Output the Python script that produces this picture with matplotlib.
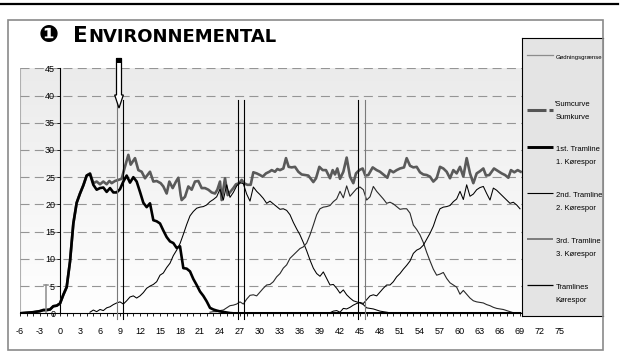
import numpy as np
import matplotlib
matplotlib.use('Agg')
import matplotlib.pyplot as plt
from matplotlib.patches import FancyArrow, Rectangle
from matplotlib.lines import Line2D
from matplotlib.colors import LinearSegmentedColormap

plt.rcParams['font.family'] = ['Liberation Sans', 'DejaVu Sans']
plt.rcParams['axes.unicode_minus'] = False
plt.rcParams['lines.scale_dashes'] = False

# ---- data (days on x, kg on y) ----
step = 0.5

# 1st tramline, -6 .. 27 every half day, then flat to day 69
tram1_start = -6.0
tram1 = [0.0, 0.05, 0.1, 0.15, 0.2, 0.3, 0.4, 0.6, 0.6, 0.7,
         1.3, 1.4, 1.8, 3.4, 4.8, 9.5, 16.5, 20.3, 22.0, 23.5,
         25.3, 25.6, 23.6, 22.7, 23.0, 23.1, 22.3, 23.0, 22.2, 22.2,
         22.8, 24.2, 25.3, 24.0, 25.0, 24.2, 22.3, 20.3, 19.5, 20.2,
         17.1, 16.9, 16.5, 15.2, 14.0, 13.2, 12.9, 12.0, 12.3, 8.3,
         8.2, 7.7, 6.3, 5.2, 4.0, 3.2, 2.2, 1.0, 0.7, 0.5,
         0.35, 0.25, 0.15, 0.05, 0.0, 0.0, 0.0]
tram1_end_day = 69
tram1_end_value = 0.0

tram2_start = 4.5
tram2 = [0.2, 0.6, 0.3, 0.7, 0.5, 1.0, 1.2, 1.6, 1.9, 2.1,
         1.7, 2.3, 3.0, 3.2, 2.8, 3.2, 3.8, 4.6, 5.0, 5.3,
         5.8, 7.0, 7.4, 8.4, 9.2, 10.6, 11.6, 12.8, 14.5, 16.3,
         17.9, 18.7, 19.3, 19.5, 19.6, 19.9, 20.5, 20.9, 21.4, 22.8,
         20.8, 23.6, 21.3, 22.2, 23.4, 24.0, 23.8, 21.9, 20.6, 23.2,
         22.4, 21.8, 21.1, 20.2, 20.6, 20.1, 19.6, 19.1, 19.2, 18.9,
         18.1, 16.7, 15.5, 14.4, 13.0, 11.5, 9.8, 8.3, 7.3, 6.8,
         7.6, 6.4, 5.2, 5.3, 4.6, 3.7, 4.3, 3.4, 2.8, 2.3,
         2.1, 1.9, 1.6, 1.0, 0.9, 0.8, 0.6, 0.4, 0.3, 0.2,
         0.1, 0.0]

tram3_start = 22.5
tram3 = [0.2, 0.3, 0.3, 0.5, 0.6, 1.0, 1.4, 1.5, 1.7, 2.1,
         1.7, 2.6, 3.3, 3.4, 3.2, 3.9, 4.6, 5.2, 5.3, 5.8,
         6.7, 7.3, 8.3, 8.9, 10.1, 10.7, 11.3, 11.9, 12.2, 12.9,
         14.4, 16.2, 18.1, 19.2, 19.5, 19.6, 19.8, 20.5, 21.0, 22.4,
         21.2, 23.4, 21.5, 22.2, 22.9, 23.2, 22.7, 20.8, 21.4, 23.3,
         22.4, 21.7, 21.0, 20.2, 20.4, 20.1, 19.6, 19.1, 19.2, 19.2,
         18.4, 16.2, 15.4, 14.4, 13.0, 11.2, 9.6, 8.1, 7.0, 7.2,
         7.5, 6.4, 5.6, 5.2, 4.8, 3.5, 4.2, 3.5, 2.8, 2.3,
         2.1, 2.0, 1.9, 1.6, 1.4, 1.1, 0.9, 0.8, 0.7, 0.5,
         0.3, 0.1]

tram4_start = 40.5
tram4 = [0.1, 0.4, 0.5, 0.2, 0.9, 0.8, 1.1, 1.5, 1.8, 2.0,
         1.8, 2.5, 3.2, 3.4, 3.2, 3.9, 4.6, 5.2, 5.2, 5.8,
         6.7, 7.3, 8.1, 8.8, 9.6, 11.0, 11.6, 11.9, 12.5, 13.6,
         14.7, 16.0, 17.8, 19.2, 19.5, 19.6, 19.8, 20.5, 21.0, 22.4,
         20.9, 23.6, 21.5, 21.9, 22.7, 23.1, 23.3, 22.0, 20.8, 23.0,
         22.6, 22.0, 21.4, 20.8, 20.2, 20.4, 19.9, 19.2]

sum_days = [-6, -5, -4, -3, -2.5, -2, -1.5, -1, -0.5, 0,
            0.5, 1, 1.5, 2, 2.5, 3, 3.5, 4, 4.5, 5,
            5.5, 6, 6.5, 7, 7.4, 7.75, 8.25, 8.75, 9.25, 9.6,
            10.25, 10.6, 11.25, 11.75, 12.25, 12.75, 13.5, 14, 14.5, 15.1,
            15.5, 16, 16.4, 16.9, 17.4, 17.75, 18.1, 18.25, 18.75, 19.25,
            19.75, 20.25, 20.75, 21.25, 21.75, 22.25, 22.75, 23.25, 23.6, 24,
            24.25, 24.75, 25.15, 25.6, 26, 26.4, 26.9, 27.25, 27.6, 28.1,
            28.6, 29, 29.5, 30, 30.4, 30.9, 31.4, 31.75, 32.25, 32.6,
            33, 33.5, 33.9, 34.3, 34.75, 35.25, 35.75, 36.25, 36.75, 37.25,
            37.75, 38, 38.4, 38.9, 39.4, 39.9, 40.5, 40.9, 41.25, 41.6,
            42, 42.5, 43, 43.5, 44, 44.4, 44.9, 45.4, 45.8, 46.25,
            46.9, 47.5, 48, 48.6, 49.1, 49.5, 50, 50.5, 51, 51.6,
            52, 52.5, 53, 53.5, 54, 54.5, 55, 55.5, 56, 56.5,
            57, 57.5, 58, 58.5, 59, 59.5, 60, 60.5, 61, 61.5,
            62, 62.5, 63, 63.5, 63.9, 64.4, 65.1, 65.75, 66.25, 66.75,
            67.25, 67.65, 68.15, 68.65, 69.1]
sum_values = [0.0, 0.1, 0.2, 0.4, 0.6, 0.6, 0.7, 1.3, 1.4, 1.8,
              3.4, 4.8, 9.5, 16.5, 20.3, 22.0, 23.5, 25.3, 25.7, 23.9,
              24.2, 23.7, 24.2, 23.7, 24.3, 23.9, 24.3, 24.5, 24.7, 26.3,
              29.1, 27.3, 28.5, 26.3, 26.0, 24.8, 26.0, 24.2, 24.3, 23.9,
              23.3, 22.0, 24.2, 23.0, 24.2, 24.9, 21.7, 20.8, 21.4, 23.3,
              22.7, 24.2, 24.3, 23.0, 23.0, 22.7, 22.2, 22.0, 22.7, 24.2,
              20.8, 24.8, 21.7, 22.4, 23.0, 23.7, 23.9, 24.5, 23.9, 23.6,
              23.6, 25.9, 25.7, 25.4, 25.1, 25.7, 26.0, 26.3, 26.0, 26.5,
              26.3, 26.6, 28.5, 26.9, 26.8, 26.9, 26.0, 25.5, 25.4, 25.3,
              24.5, 24.1, 24.8, 26.9, 26.3, 26.3, 24.8, 26.3, 25.5, 26.6,
              24.7, 26.0, 28.6, 25.1, 23.9, 25.7, 26.3, 26.6, 25.3, 25.4,
              26.8, 26.3, 26.0, 25.4, 24.9, 26.3, 25.9, 26.3, 26.6, 26.8,
              28.5, 27.1, 26.8, 26.9, 25.9, 25.5, 25.4, 25.1, 24.2, 24.8,
              26.9, 26.6, 26.0, 24.8, 26.3, 25.7, 26.9, 25.1, 28.5, 25.7,
              23.9, 25.7, 26.1, 26.6, 25.3, 25.4, 26.6, 26.1, 25.7, 25.4,
              24.9, 26.3, 25.9, 26.3, 26.0]

# spreading boundary marker
boundary_day = -2.1
boundary_height = 5.2

# pairs of vertical marker lines at each tramline pass
pass_left = [8.55, 26.65, 44.75]
pass_right = [9.45, 27.6, 45.75]
pass_left_colors = ['#7a7a7a', 'black', 'black']
pass_right_colors = ['black', 'black', '#7a7a7a']
pass_top = 39.2
pass_bottom = -1.1
arrow_day = 8.85
arrow_top = 46.8
arrow_tip = 37.7

xtick_values = list(range(-6, 76, 3))
ytick_values = list(range(0, 46, 5))


def days(start, values):
    return start + step * np.arange(len(values))


W, H = 621, 360
fig = plt.figure(figsize=(W / 100, H / 100), dpi=100)

# page rule and frame
fig.add_artist(Line2D([0, 618 / W], [1 - 4.3 / H] * 2, color='black', lw=1.6))
fig.add_artist(Rectangle((8 / W, 10 / H), 595 / W, 330 / H, transform=fig.transFigure,
                         fill=False, ec='#8a8a8a', lw=1.2))

# title
fig.text(38.5 / W, 1 - 42.5 / H, '\u2776', fontsize=17, family='DejaVu Sans', weight='bold')
fig.text(73 / W, 1 - 41.7 / H, 'E', fontsize=15.5, family='DejaVu Sans', weight='bold')
fig.text(88.3 / W, 1 - 41.7 / H, 'NVIRONNEMENTAL', fontsize=13, family='DejaVu Sans', weight='bold')

ax = fig.add_axes([20 / W, (H - 313.3) / H, 540 / W, 245 / H])
ax.set_facecolor('none')

grad = np.linspace(0, 1, 256).reshape(-1, 1)
cmap = LinearSegmentedColormap.from_list('bg', ['#ffffff', '#ebebeb'])
ax.imshow(grad, extent=(-6, 75, 0, 45), origin='lower', aspect='auto', cmap=cmap, zorder=0)
ax.plot([-6, -6], [0, 45], color='#b0b0b0', lw=0.8, zorder=1)

for yv in ytick_values[1:]:
    ax.plot([-6, 75], [yv, yv], color='#959595', lw=0.8, dashes=(6.5, 3.8), zorder=1)

# curves
ax.plot(sum_days, sum_values, color='#5a5a5a', lw=1.9, zorder=3)
ax.plot(days(tram2_start, tram2), tram2, color='black', lw=0.75, zorder=3)
ax.plot(days(tram3_start, tram3), tram3, color='#2a2a2a', lw=0.8, zorder=3)
ax.plot(days(tram4_start, tram4), tram4, color='black', lw=0.75, zorder=3)
t1x = np.append(days(tram1_start, tram1), tram1_end_day)
t1y = np.append(tram1, tram1_end_value)
ax.plot(t1x, t1y, color='black', lw=1.9, zorder=4)

# spreading boundary
ax.plot([boundary_day, boundary_day], [0, boundary_height], color='#8c8c8c', lw=1.1, zorder=4)
ax.plot([boundary_day - 0.3, boundary_day + 0.3], [boundary_height] * 2, color='#8c8c8c', lw=1.1, zorder=4)

# tramline passes
for xl, xr, cl, cr in zip(pass_left, pass_right, pass_left_colors, pass_right_colors):
    ax.plot([xl, xl], [pass_bottom, pass_top], color=cl, lw=0.8, clip_on=False, zorder=5)
    ax.plot([xr, xr], [pass_bottom, pass_top], color=cr, lw=0.8, clip_on=False, zorder=5)

arrow = FancyArrow(arrow_day, arrow_top, 0, arrow_tip - arrow_top, width=0.75, head_width=1.3,
                   head_length=2.4, length_includes_head=True, fc='white', ec='black', lw=0.9,
                   clip_on=False, zorder=6)
ax.add_patch(arrow)
ax.add_patch(Rectangle((arrow_day - 0.4, arrow_top - 0.9), 0.8, 0.9, fc='black', ec='none',
                       clip_on=False, zorder=7))

ax.set_xlim(-6, 75)
ax.set_ylim(0, 45)
ax.spines['top'].set_visible(False)
ax.spines['right'].set_visible(False)
ax.spines['left'].set_position(('data', 0))
ax.spines['left'].set_linewidth(0.8)
ax.spines['bottom'].set_linewidth(0.8)
ax.set_xticks(xtick_values)
ax.set_xticks(range(-6, 76), minor=True)
ax.set_yticks(ytick_values)
ax.tick_params(axis='x', which='both', length=2.3, width=0.6, direction='out', pad=7.5, labelsize=6.5)
ax.tick_params(axis='y', length=2.3, width=0.6, direction='out', pad=1.2, labelsize=6.5)

# legend panel
lax = fig.add_axes([522 / W, (H - 315.5) / H, 81 / W, 277.5 / H])
lax.set_facecolor('#e4e4e4')
lax.set_xlim(522, 603)
lax.set_ylim(315.5, 38)
lax.set_xticks([])
lax.set_yticks([])
for s in ['left', 'top', 'bottom']:
    lax.spines[s].set_linewidth(0.8)
    lax.spines[s].set_color('black')
lax.spines['right'].set_color('#8a8a8a')

lx0, lx1, tx = 526.7, 553.3, 555.5
lax.plot([lx0, lx1], [55, 55], color='#8c8c8c', lw=0.9)
lax.text(tx, 57, 'Gødningsgrænse', fontsize=4.3, va='center')

lax.plot([lx0, 546], [110, 110], color='#555555', lw=2.2, solid_capstyle='butt')
lax.plot([549, lx1], [110, 110], color='#555555', lw=2.2, solid_capstyle='butt')
lax.text(tx - 1, 104.5, "'Sumcurve", fontsize=5.5, va='center')
lax.text(tx, 117.7, 'Sumkurve', fontsize=5.5, va='center')

entries = [
    (146.7, '1st. Tramline', '1. Kørespor', 'black', 2.1),
    (192.7, '2nd. Tramline', '2. Kørespor', 'black', 0.8),
    (239.3, '3rd. Tramline', '3. Kørespor', '#606060', 1.1),
    (285.0, 'Tramlines', 'Kørespor', 'black', 0.9),
]
for ly, top, bottom, col, lw in entries:
    lax.plot([lx0, lx1], [ly, ly], color=col, lw=lw, solid_capstyle='butt')
    lax.text(tx, ly + 2.5, top, fontsize=5.5, va='center')
    lax.text(tx, ly + 15.5, bottom, fontsize=5.5, va='center')

fig.savefig('out.png', dpi=100)
